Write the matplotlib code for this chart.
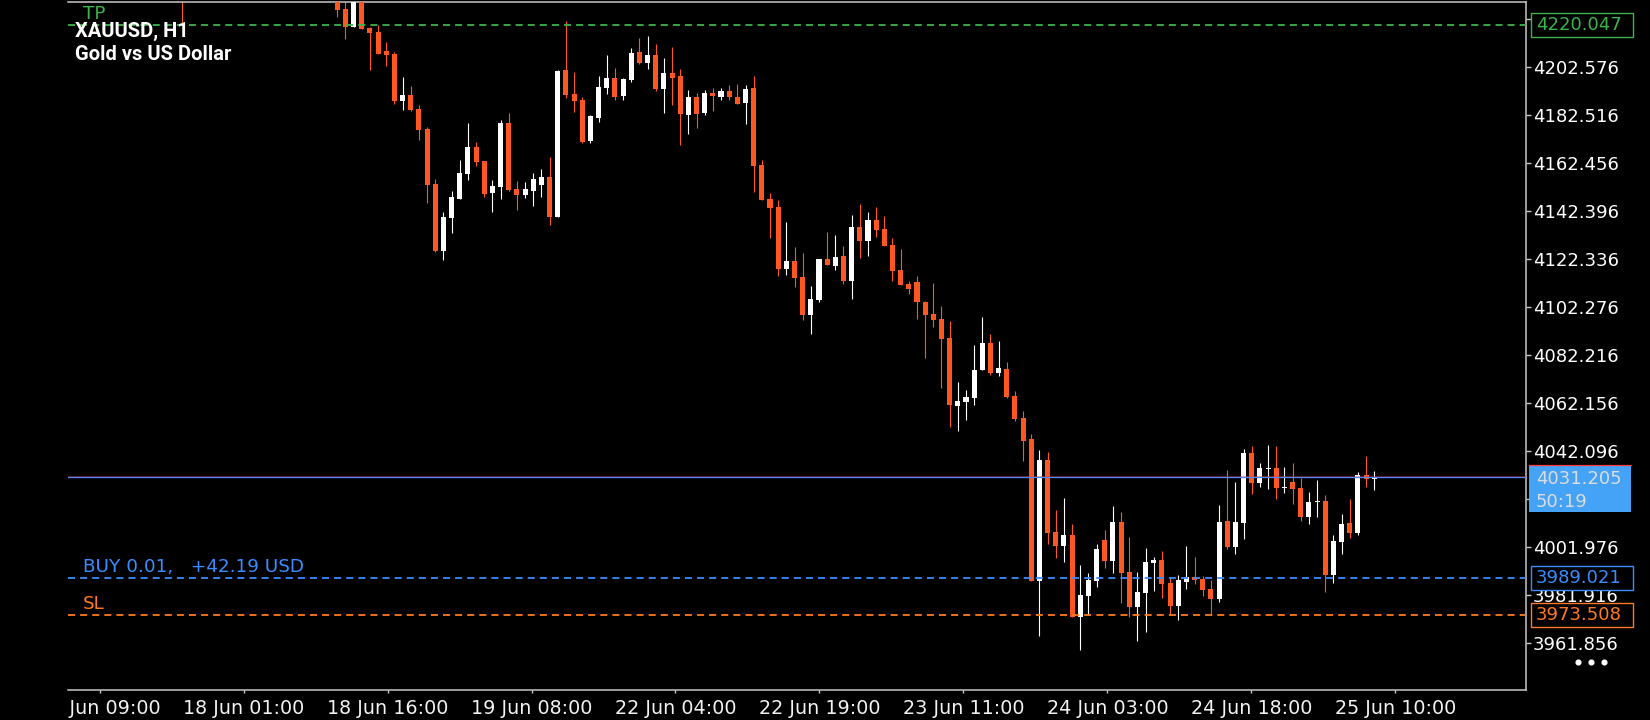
import matplotlib.pyplot as plt
import matplotlib.transforms as mtransforms
from matplotlib.patches import Rectangle
import numpy as np


# XAUUSD H1, candele (la prima e' quasi tutta fuori, in alto)
bar_no = [-19] + list(range(128))

opens = [4241.0,
         4233.0, 4226.6, 4219.2, 4234.0, 4218.7, 4217.0, 4209.1, 4207.8, 4188.3, 4190.7,
         4184.8, 4176.5, 4153.5, 4125.5, 4139.3, 4147.2, 4157.7, 4168.9, 4163.1, 4149.7,
         4152.2, 4179.0, 4151.4, 4148.9, 4150.6, 4153.1, 4156.4, 4139.7, 4201.1, 4191.1,
         4188.6, 4171.5, 4181.1, 4193.6, 4197.8, 4190.3, 4196.9, 4208.6, 4204.0, 4207.4,
         4193.2, 4199.9, 4198.6, 4182.3, 4189.8, 4183.1, 4191.5, 4189.8, 4192.3, 4189.8,
         4187.3, 4193.6, 4161.4, 4147.2, 4143.9, 4118.0, 4121.3, 4114.6, 4098.7, 4105.0,
         4122.1, 4119.2, 4123.4, 4113.0, 4135.5, 4129.7, 4138.4, 4134.7, 4128.0, 4117.5,
         4111.7, 4112.5, 4104.2, 4099.2, 4097.1, 4089.1, 4060.7, 4062.4, 4064.1, 4075.8,
         4087.0, 4074.5, 4076.2, 4064.9, 4055.7, 4046.9, 3987.6, 4038.2, 4008.1, 4002.2,
         4006.8, 3972.6, 3981.3, 3987.6, 4004.7, 3996.0, 4012.3, 3991.4, 3976.7, 3982.6,
         3995.1, 3996.4, 3986.8, 3977.1, 3987.2, 3989.3, 3988.4, 3984.3, 3980.1, 4012.7,
         4001.8, 4011.8, 4041.1, 4028.5, 4034.4, 4034.8, 4026.5, 4028.9, 4026.5, 4014.3,
         4020.6, 4021.0, 3990.1, 4003.9, 4011.8, 4007.7, 4031.9, 4030.2]

highs = [4245.0,
         4236.0, 4238.0, 4237.0, 4236.0, 4219.0, 4219.9, 4212.8, 4208.6, 4198.2, 4194.4,
         4186.5, 4177.3, 4155.6, 4141.8, 4150.6, 4163.5, 4179.0, 4171.0, 4163.1, 4155.2,
         4180.2, 4183.2, 4154.7, 4154.3, 4158.1, 4159.8, 4164.8, 4201.1, 4221.6, 4200.3,
         4189.8, 4182.3, 4198.6, 4207.4, 4202.0, 4197.8, 4210.3, 4214.5, 4215.3, 4212.0,
         4206.1, 4210.7, 4201.5, 4192.8, 4191.5, 4192.8, 4193.6, 4193.6, 4194.9, 4195.3,
         4194.9, 4198.6, 4163.5, 4149.7, 4146.8, 4137.6, 4127.2, 4124.7, 4110.9, 4122.1,
         4133.4, 4132.2, 4127.6, 4140.5, 4145.1, 4141.8, 4143.9, 4140.1, 4130.9, 4126.3,
         4113.0, 4115.0, 4104.6, 4112.1, 4102.5, 4096.2, 4070.7, 4067.4, 4086.2, 4097.9,
         4090.8, 4087.9, 4079.1, 4067.0, 4058.6, 4049.0, 4042.3, 4041.5, 4017.3, 4022.3,
         4011.4, 3994.3, 3990.9, 4003.1, 4008.9, 4018.9, 4016.4, 4006.0, 3991.4, 4001.4,
         3997.6, 4000.1, 3989.3, 3990.1, 4002.2, 3997.6, 3989.7, 3988.0, 4019.3, 4034.0,
         4029.0, 4042.8, 4044.0, 4036.9, 4044.4, 4044.0, 4035.2, 4036.9, 4030.6, 4024.8,
         4029.8, 4023.5, 4006.8, 4015.6, 4021.9, 4033.1, 4039.8, 4033.6]

lows = [4220.8,
        4223.1, 4214.2, 4218.9, 4218.3, 4201.1, 4207.8, 4202.8, 4186.9, 4184.4, 4184.1,
        4171.9, 4145.5, 4125.1, 4121.7, 4133.0, 4147.2, 4155.2, 4161.0, 4148.0, 4141.8,
        4147.2, 4150.6, 4142.6, 4147.6, 4144.3, 4148.0, 4136.4, 4139.7, 4189.4, 4183.6,
        4170.6, 4170.6, 4179.4, 4191.1, 4188.6, 4188.6, 4196.1, 4203.6, 4201.5, 4192.3,
        4183.1, 4186.5, 4169.8, 4174.4, 4176.9, 4182.3, 4184.0, 4188.6, 4188.6, 4186.9,
        4178.6, 4150.1, 4146.8, 4130.9, 4115.0, 4115.5, 4110.4, 4096.6, 4090.8, 4104.2,
        4119.6, 4117.5, 4111.7, 4105.4, 4122.6, 4123.4, 4131.3, 4127.6, 4113.0, 4111.3,
        4107.5, 4097.1, 4080.8, 4093.7, 4068.2, 4051.9, 4050.3, 4054.9, 4061.1, 4075.8,
        4073.7, 4073.3, 4064.1, 4054.4, 4037.7, 3987.6, 3964.6, 4003.1, 3997.2, 3995.5,
        3972.6, 3958.8, 3973.4, 3985.1, 3993.0, 3990.9, 3978.4, 3972.6, 3962.5, 3966.3,
        3983.4, 3980.5, 3973.8, 3971.3, 3984.3, 3986.3, 3981.3, 3973.4, 3978.8, 4000.9,
        3998.9, 4005.1, 4024.0, 4026.9, 4026.0, 4021.9, 4024.4, 4019.8, 4012.7, 4011.4,
        4014.3, 3983.0, 3986.8, 3998.9, 4005.6, 4006.8, 4026.9, 4025.6]

closes = [4236.0,
          4226.2, 4219.2, 4234.0, 4218.3, 4216.7, 4207.8, 4207.4, 4188.3, 4190.7, 4184.4,
          4176.0, 4153.1, 4125.5, 4139.7, 4148.1, 4158.1, 4168.9, 4162.7, 4149.3, 4152.7,
          4179.0, 4151.0, 4148.9, 4151.4, 4155.6, 4156.4, 4139.7, 4200.7, 4190.7, 4188.2,
          4171.0, 4181.9, 4194.0, 4197.8, 4189.8, 4197.4, 4208.2, 4204.0, 4207.4, 4193.2,
          4199.9, 4197.8, 4182.7, 4189.8, 4182.7, 4191.5, 4190.3, 4192.3, 4189.8, 4186.9,
          4193.2, 4161.0, 4146.8, 4143.5, 4118.0, 4121.3, 4114.2, 4098.7, 4105.4, 4122.1,
          4119.6, 4123.0, 4113.0, 4135.5, 4129.7, 4138.4, 4134.3, 4127.6, 4117.1, 4111.3,
          4109.6, 4104.2, 4098.7, 4096.6, 4088.7, 4061.1, 4062.8, 4064.5, 4075.8, 4087.0,
          4074.5, 4076.6, 4064.5, 4055.3, 4046.1, 3987.6, 4038.2, 4007.7, 4002.2, 4006.8,
          3972.6, 3981.8, 3988.0, 4001.0, 3996.0, 4012.3, 3990.9, 3976.7, 3983.0, 3995.5,
          3996.4, 3986.3, 3977.1, 3988.0, 3989.3, 3988.0, 3983.8, 3980.1, 4012.3, 4001.8,
          4012.3, 4041.1, 4028.5, 4034.8, 4034.8, 4026.5, 4026.9, 4026.0, 4014.3, 4020.6,
          4021.0, 3990.1, 4004.3, 4011.4, 4007.7, 4031.9, 4030.2, 4031.205]

# livelli dell'ordine e prezzo attuale
tp_price = 4220.047
buy_price = 3989.021
sl_price = 3973.508
bid = 4031.205
ask = 4031.55
countdown = '50:19'

# etichette asse tempo
time_labels = ['17 Jun 09:00', '18 Jun 01:00', '18 Jun 16:00', '19 Jun 08:00', '22 Jun 04:00',
               '22 Jun 19:00', '23 Jun 11:00', '24 Jun 03:00', '24 Jun 18:00', '25 Jun 10:00']
time_ticks = -29.12 + 17.636 * np.arange(len(time_labels))
price_ticks = 3961.856 + 20.06 * np.arange(14)
# le etichette 4022.036 e 4222.636 stanno sotto i riquadri dei prezzi
price_labels = ['%.3f' % p for p in price_ticks]
price_labels[3] = ''
price_labels[13] = ''

red = '#ff5722'
green = '#3cb44b'
blue = '#3a8cff'
orange = '#ff7a1f'
grey = '#c8c8c8'

x = np.array(bar_no)
o = np.array(opens)
h = np.array(highs)
l = np.array(lows)
c = np.array(closes)
cols = np.where(c >= o, 'white', red)

fig = plt.figure(figsize=(16.5, 7.2), dpi=100, facecolor='black')
ax = fig.add_axes([68 / 1650, 1 - 689.5 / 720, 1458 / 1650, 687.8 / 720])
ax.set_facecolor('black')

# candele: stoppini + corpi
ax.vlines(x, l, h, colors=cols, lw=0.8, zorder=2)
body = np.abs(c - o)
body_h = np.maximum(body, 0.6)
body_lo = np.minimum(o, c) - (body_h - body) / 2
ax.bar(x, body_h, bottom=body_lo, width=0.62, color=cols, lw=0, zorder=3)

ax.set_xlim(-32.98, 145.59)
ax.set_ylim(3942.26, 4229.66)

# linee TP / BUY / SL e ask / bid
ax.axhline(tp_price, color=green, lw=1.3, dashes=(3.9, 2.8), zorder=4)
ax.axhline(buy_price, color=blue, lw=1.3, dashes=(3.9, 2.8), zorder=4)
ax.axhline(sl_price, color=orange, lw=1.3, dashes=(3.9, 2.8), zorder=4)
ax.axhline(ask, color='#e8303a', lw=0.4, alpha=0.7, zorder=4)
ax.axhline(bid, color='#5088f5', lw=0.95, zorder=4.2)

trans = mtransforms.blended_transform_factory(ax.transAxes, ax.transData)
for txt, price, col in [('TP', tp_price, green),
                        ('BUY 0.01,   +42.19 USD', buy_price, blue),
                        ('SL', sl_price, orange)]:
    ax.annotate(txt, xy=(0.0101, price), xycoords=trans, xytext=(0, 4.2),
                textcoords='offset points', va='baseline', ha='left', color=col,
                fontsize=13.2, family='DejaVu Sans', zorder=6)

# asse y a destra
ax.yaxis.tick_right()
ax.set_yticks(price_ticks, labels=price_labels)
ax.tick_params(axis='y', colors=grey, labelcolor='white', length=3.4, width=1.0, pad=1.5,
               labelsize=13, labelfontfamily='DejaVu Sans')
ax.set_xticks(time_ticks, labels=time_labels)
ax.tick_params(axis='x', colors=grey, labelcolor='#f2f2f2', length=2.2, width=1.0, pad=4.3,
               labelsize=13.8, labelfontfamily='DejaVu Sans')

for side in ['top', 'right', 'bottom']:
    ax.spines[side].set_color(grey)
    ax.spines[side].set_linewidth(1.1)
ax.spines['left'].set_visible(False)

# la prima data e' tagliata al bordo sinistro del grafico
first = ax.get_xticklabels()[0]
first.set_clip_path(Rectangle((68 / 1650, 0), 1, 1, transform=fig.transFigure))

# riquadri dei prezzi sull'asse
for price, col in [(tp_price, green), (buy_price, blue), (sl_price, orange)]:
    ax.add_patch(Rectangle((1.0031, price - 5.0), 0.0706, 10.0, transform=trans, fc='black',
                           ec=col, lw=1.0, clip_on=False, zorder=5))
    ax.text(1.0069, price, '%.3f' % price, transform=trans, color=col, fontsize=13,
            family='DejaVu Sans', va='center', ha='left', zorder=6, clip_on=False)

ax.add_patch(Rectangle((1.0021, bid - 14.65), 0.07, 19.5, transform=trans, fc='#45a3f7',
                       ec='none', clip_on=False, zorder=5))
ax.plot([1.0021, 1.0721], [bid + 4.87, bid + 4.87], transform=trans, color='#ff3b3b',
        lw=0.9, clip_on=False, zorder=6)
ax.text(1.0069, bid - 3.2, '%.3f' % bid, transform=trans, color='#dcdcdc', fontsize=13,
        family='DejaVu Sans', va='baseline', ha='left', zorder=6, clip_on=False)
ax.text(1.0069, bid - 12.7, countdown, transform=trans, color='#dcdcdc', fontsize=13,
        family='DejaVu Sans', va='baseline', ha='left', zorder=6, clip_on=False)

# i tre puntini del menu
ax.plot([1.0355, 1.0444, 1.0535], [0.0404] * 3, 'o', color='white', ms=3.4,
        transform=ax.transAxes, clip_on=False, zorder=6)

# titolo
fig.text(75 / 1650, 1 - 36.7 / 720, 'XAUUSD, H1', color='white', fontsize=14.5,
         fontweight='bold', family='Roboto', va='baseline')
fig.text(75 / 1650, 1 - 60 / 720, 'Gold vs US Dollar', color='white', fontsize=14.5,
         fontweight='bold', family='Roboto', va='baseline')

fig.savefig('out.png', dpi=100, facecolor='black')
